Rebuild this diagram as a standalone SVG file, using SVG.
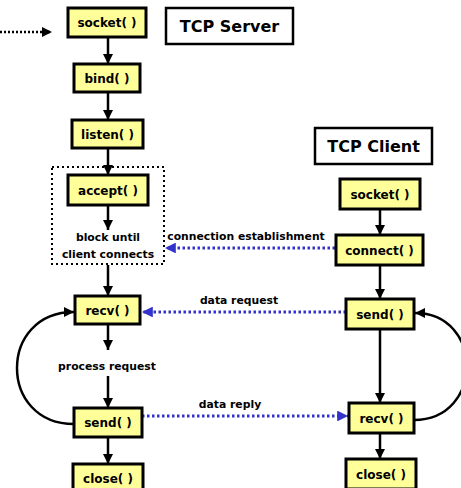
<svg xmlns="http://www.w3.org/2000/svg" width="461" height="488" viewBox="0 0 461 488">
<defs>
<style>
.box{fill:#ffff99;stroke:#000;stroke-width:3}
.title{fill:#fff;stroke:#000;stroke-width:2.5}
.t{font-family:"Comic Sans MS","DejaVu Sans",sans-serif;font-weight:bold;font-size:12px;text-anchor:middle;fill:#000}
.lbl{font-family:"Comic Sans MS","DejaVu Sans",sans-serif;font-weight:bold;font-size:10.8px;text-anchor:middle;fill:#000}
.tt{font-family:"Comic Sans MS","DejaVu Sans",sans-serif;font-weight:bold;font-size:16px;text-anchor:middle;fill:#000}
.c{fill:none;stroke:#000;stroke-width:2.5}
.b{fill:none;stroke:#3333cc;stroke-width:3;stroke-dasharray:2.5 2.5}
.k{fill:none;stroke:#000;stroke-width:2.5;stroke-dasharray:2 2}
.dbox{fill:none;stroke:#000;stroke-width:2;stroke-dasharray:2 3}
</style>
<marker id="ah" viewBox="0 0 10 10" refX="10" refY="5" markerWidth="4.4" markerHeight="4" orient="auto" markerUnits="strokeWidth"><path d="M0,0L10,5L0,10z" fill="#000"/></marker>
<marker id="ahb" viewBox="0 0 10 10" refX="10" refY="5" markerWidth="4" markerHeight="3.6" orient="auto" markerUnits="strokeWidth"><path d="M0,0L10,5L0,10z" fill="#3333cc"/></marker>
</defs>

<g id="connectors">
<path class="k" d="M0,32H52" marker-end="url(#ah)"/>
<path class="c" d="M108,37V64" marker-end="url(#ah)"/>
<path class="c" d="M108,92V120" marker-end="url(#ah)"/>
<path class="c" d="M108,148V175" marker-end="url(#ah)"/>
<path class="c" d="M108,205V230" marker-end="url(#ah)"/>
<path class="c" d="M108,265V296" marker-end="url(#ah)"/>
<path class="c" d="M108,324V350" marker-end="url(#ah)"/>
<path class="c" d="M108,376V408" marker-end="url(#ah)"/>
<path class="c" d="M108,437V464" marker-end="url(#ah)"/>
<path class="c" d="M74,424C-2,424 -2,312 74,312" marker-end="url(#ah)"/>
<path class="c" d="M380,209V235" marker-end="url(#ah)"/>
<path class="c" d="M380,265V299" marker-end="url(#ah)"/>
<path class="c" d="M380,329V403" marker-end="url(#ah)"/>
<path class="c" d="M380,433V459" marker-end="url(#ah)"/>
<path class="c" d="M414,420C484,420 484,313 415,313" marker-end="url(#ah)"/>
<path class="b" d="M335,248H165" marker-end="url(#ahb)"/>
<path class="b" d="M346,312H142" marker-end="url(#ahb)"/>
<path class="b" d="M142,416H348" marker-end="url(#ahb)"/>
<text class="lbl" x="246" y="240">connection establishment</text>
<text class="lbl" x="239" y="304">data request</text>
<text class="lbl" x="230" y="408">data reply</text>
</g>

<g id="server-title"><rect class="title" x="166" y="8" width="127" height="36"/><text class="tt" x="229.5" y="32">TCP Server</text></g>
<g id="server-socket"><rect class="box" x="68" y="8" width="78" height="29"/><text class="t" x="107" y="27">socket( )</text></g>
<g id="server-bind"><rect class="box" x="74" y="64" width="66" height="28"/><text class="t" x="107" y="82.5">bind( )</text></g>
<g id="server-listen"><rect class="box" x="72" y="120" width="71" height="28"/><text class="t" x="107.5" y="138.5">listen( )</text></g>
<g id="server-block"><rect class="dbox" x="52" y="167" width="112" height="97"/><text class="lbl" x="108" y="241">block until</text><text class="lbl" x="108" y="258">client connects</text></g>
<g id="server-accept"><rect class="box" x="68" y="175" width="80" height="30"/><text class="t" x="108" y="194.5">accept( )</text></g>
<g id="server-recv"><rect class="box" x="75" y="296" width="65" height="28"/><text class="t" x="107.5" y="314.5">recv( )</text></g>
<g id="process"><text class="lbl" x="107" y="370">process request</text></g>
<g id="server-send"><rect class="box" x="74" y="408" width="68" height="29"/><text class="t" x="108" y="427">send( )</text></g>
<g id="server-close"><rect class="box" x="73" y="464" width="70" height="28"/><text class="t" x="108" y="482.5">close( )</text></g>

<g id="client-title"><rect class="title" x="315" y="128" width="117" height="36"/><text class="tt" x="373.5" y="152">TCP Client</text></g>
<g id="client-socket"><rect class="box" x="340" y="179" width="80" height="30"/><text class="t" x="380" y="198.5">socket( )</text></g>
<g id="client-connect"><rect class="box" x="336" y="235" width="87" height="30"/><text class="t" x="379.5" y="254.5">connect( )</text></g>
<g id="client-send"><rect class="box" x="346" y="299" width="68" height="30"/><text class="t" x="380" y="318.5">send( )</text></g>
<g id="client-recv"><rect class="box" x="349" y="403" width="65" height="30"/><text class="t" x="381.5" y="422.5">recv( )</text></g>
<g id="client-close"><rect class="box" x="346" y="459" width="70" height="30"/><text class="t" x="381" y="478.5">close( )</text></g>
</svg>
